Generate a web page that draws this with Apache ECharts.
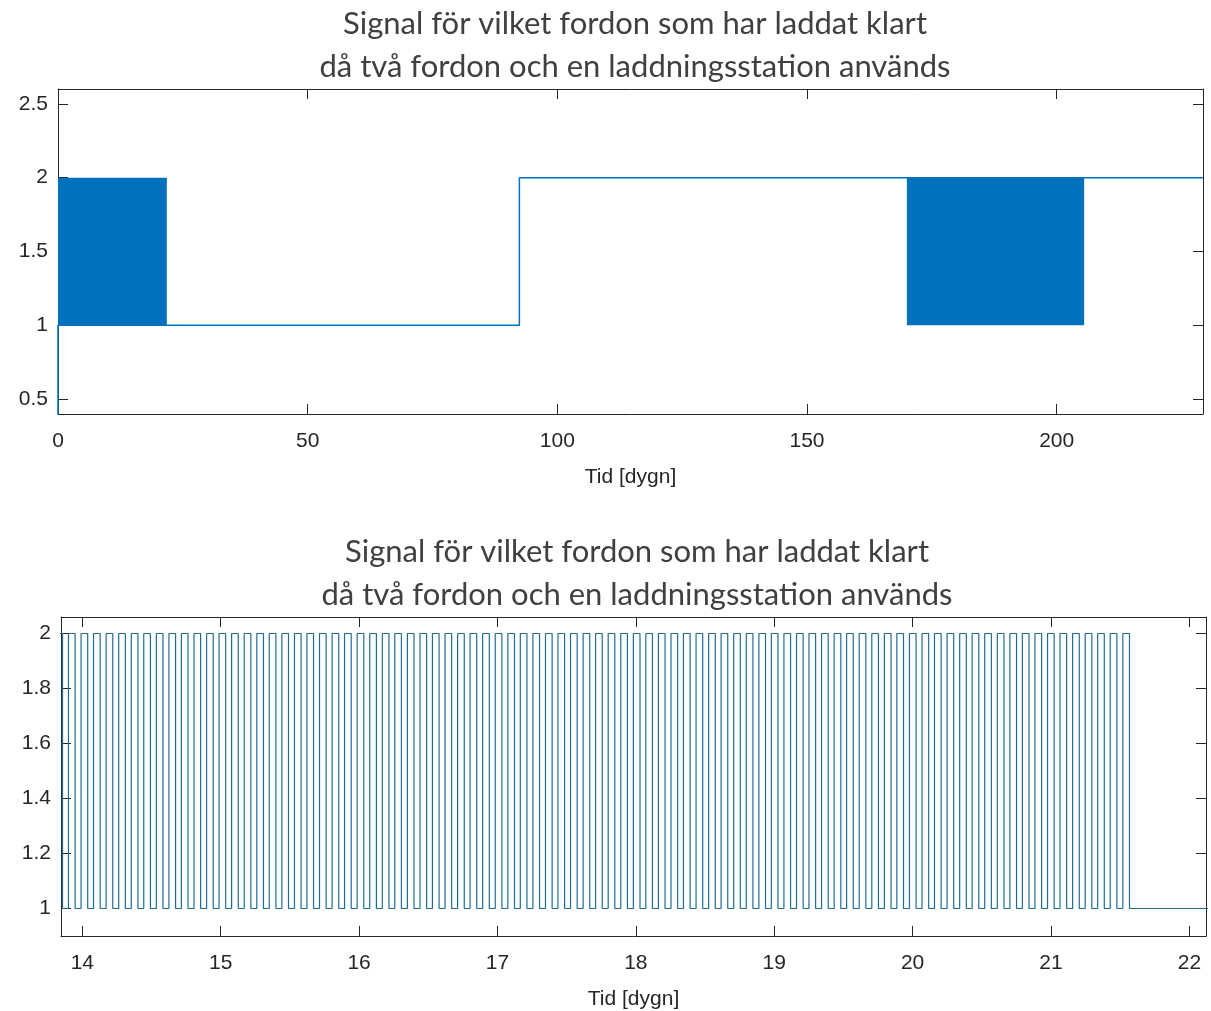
<!DOCTYPE html>
<html>
<head>
<meta charset="utf-8">
<script src="https://cdn.jsdelivr.net/npm/echarts@6/dist/echarts.min.js"></script>
<style>
html,body{margin:0;padding:0;background:#fff;}
#chart{width:1211px;height:1011px;}
</style>
</head>
<body>
<div id="chart"></div>
<script>
// ---------- DATA ----------
const titleText = 'Signal för vilket fordon som har laddat klart\ndå två fordon och en laddningsstation används';
const xAxisName = 'Tid [dygn]';

// Top panel: level changes of the signal (outside the dense switching bands)
const topTimes  = [0, 0, 21.8, 92.4, 92.4, 229.3];
const topValues = [0, 1, 1,    1,    2,    2];
// Top panel: time ranges where the signal toggles rapidly between 1 and 2 (drawn as a solid band)
const bandStarts = [0, 170.0];
const bandEnds   = [21.8, 205.5];
const bandLow  = 1;
const bandHigh = 2;
const topXTicks = [0, 50, 100, 150, 200];
const topYTicks = [0.5, 1, 1.5, 2, 2.5];

// Bottom panel (zoom 13.85 - 22.1 dygn): rising (1->2) and falling (2->1) edges
const riseTimes = [13.809,13.900,13.991,14.081,14.172,14.263,14.354,14.444,14.535,14.626,14.716,14.807,14.898,14.988,
15.079,15.170,15.261,15.351,15.442,15.533,15.623,15.714,15.805,15.895,15.986,16.077,16.168,16.258,16.349,16.440,
16.530,16.621,16.712,16.802,16.893,16.984,17.075,17.165,17.256,17.347,17.437,17.528,17.619,17.709,17.800,17.891,
17.982,18.072,18.163,18.254,18.344,18.435,18.526,18.616,18.707,18.798,18.889,18.979,19.070,19.161,19.251,19.342,
19.433,19.523,19.614,19.705,19.796,19.886,19.977,20.068,20.158,20.249,20.340,20.430,20.521,20.612,20.703,20.793,
20.884,20.975,21.065,21.156,21.247,21.337,21.428,21.519];
const fallTimes = [13.857,13.948,14.039,14.129,14.220,14.311,14.402,14.492,14.583,14.674,14.764,14.855,14.946,15.036,
15.127,15.218,15.309,15.399,15.490,15.581,15.671,15.762,15.853,15.943,16.034,16.125,16.216,16.306,16.397,16.488,
16.578,16.669,16.760,16.850,16.941,17.032,17.123,17.213,17.304,17.395,17.485,17.576,17.667,17.757,17.848,17.939,
18.030,18.120,18.211,18.302,18.392,18.483,18.574,18.664,18.755,18.846,18.937,19.027,19.118,19.209,19.299,19.390,
19.481,19.571,19.662,19.753,19.844,19.934,20.025,20.116,20.206,20.297,20.388,20.478,20.569,20.660,20.751,20.841,
20.932,21.023,21.113,21.204,21.295,21.385,21.476,21.567];
const lowLevel = 1, highLevel = 2;
const bottomStart = 13.7, bottomEnd = 22.3;
const bottomXTicks = [14, 15, 16, 17, 18, 19, 20, 21, 22];
const bottomYTicks = [1, 1.2, 1.4, 1.6, 1.8, 2];

// ---------- BUILD ----------
const topData = topTimes.map((t, i) => [t, topValues[i]]);
const bottomData = [[bottomStart, lowLevel]];
riseTimes.forEach((r, i) => {
  bottomData.push([r, lowLevel], [r, highLevel], [fallTimes[i], highLevel], [fallTimes[i], lowLevel]);
});
bottomData.push([bottomEnd, lowLevel]);

const lineColor = '#0072BD';
const axisColor = '#262626';
const labelFont = {fontFamily: 'Liberation Sans, Arial, sans-serif', fontSize: 21, color: '#262626'};

function axisCommon() {
  return {
    axisLine: {show: true, onZero: false, lineStyle: {color: axisColor, width: 1}},
    axisTick: {show: true, inside: true, length: 10, lineStyle: {color: axisColor, width: 1}},
    splitLine: {show: false},
  };
}

const G = [
  {left: 58, top: 89, width: 1145, height: 325},
  {left: 61, top: 617, width: 1145, height: 319}
];

function xAxes(gi, min, max, ticks) {
  const main = Object.assign({
    type: 'value', gridIndex: gi, min: min, max: max, position: 'bottom',
    name: xAxisName, nameLocation: 'middle', nameGap: 53,
    nameTextStyle: {fontFamily: 'Liberation Sans, Arial, sans-serif', fontSize: 21, color: '#262626'},
    axisLabel: Object.assign({customValues: ticks, margin: 17, showMinLabel: true, showMaxLabel: true}, labelFont),
  }, axisCommon());
  main.axisTick = Object.assign({customValues: ticks}, main.axisTick);
  const mirror = Object.assign({
    type: 'value', gridIndex: gi, min: min, max: max, position: 'top',
    axisLabel: {show: false},
  }, axisCommon());
  mirror.axisTick = Object.assign({customValues: ticks}, mirror.axisTick);
  return [main, mirror];
}
function yAxes(gi, min, max, ticks) {
  const main = Object.assign({
    type: 'value', gridIndex: gi, min: min, max: max, position: 'left',
    axisLabel: Object.assign({customValues: ticks, margin: 10}, labelFont),
  }, axisCommon());
  main.axisTick = Object.assign({customValues: ticks}, main.axisTick);
  const mirror = Object.assign({
    type: 'value', gridIndex: gi, min: min, max: max, position: 'right',
    axisLabel: {show: false},
  }, axisCommon());
  mirror.axisTick = Object.assign({customValues: ticks}, mirror.axisTick);
  return [main, mirror];
}

const xa = xAxes(0, 0, 229.3, topXTicks).concat(xAxes(1, 13.846, 22.12, bottomXTicks));
const ya = yAxes(0, 0.4, 2.6, topYTicks).concat(yAxes(1, 0.9, 2.06, bottomYTicks));

const titleStyle = {fontFamily: 'Lato, Open Sans, sans-serif', fontSize: 31, fontWeight: 'normal', color: '#404040', lineHeight: 43};

const option = {
  animation: false,
  backgroundColor: '#ffffff',
  title: [
    {text: titleText, left: 630, top: -3, textAlign: 'center', textStyle: titleStyle},
    {text: titleText, left: 632, top: 525, textAlign: 'center', textStyle: titleStyle}
  ],
  grid: G,
  xAxis: xa,
  yAxis: ya,
  series: [
    {
      type: 'line', xAxisIndex: 0, yAxisIndex: 0, data: topData, showSymbol: false, clip: true,
      lineStyle: {color: lineColor, width: 1.5},
      markArea: {
        silent: true,
        itemStyle: {color: lineColor, opacity: 1},
        data: bandStarts.map((s, i) => [{coord: [s, bandLow]}, {coord: [bandEnds[i], bandHigh]}])
      }
    },
    {
      type: 'line', xAxisIndex: 2, yAxisIndex: 2, data: bottomData, showSymbol: false, clip: true,
      lineStyle: {color: '#1f6d96', width: 1.2}
    }
  ]
};

const chart = echarts.init(document.getElementById('chart'), null, {renderer: 'canvas'});
chart.setOption(option);
</script>
</body>
</html>
